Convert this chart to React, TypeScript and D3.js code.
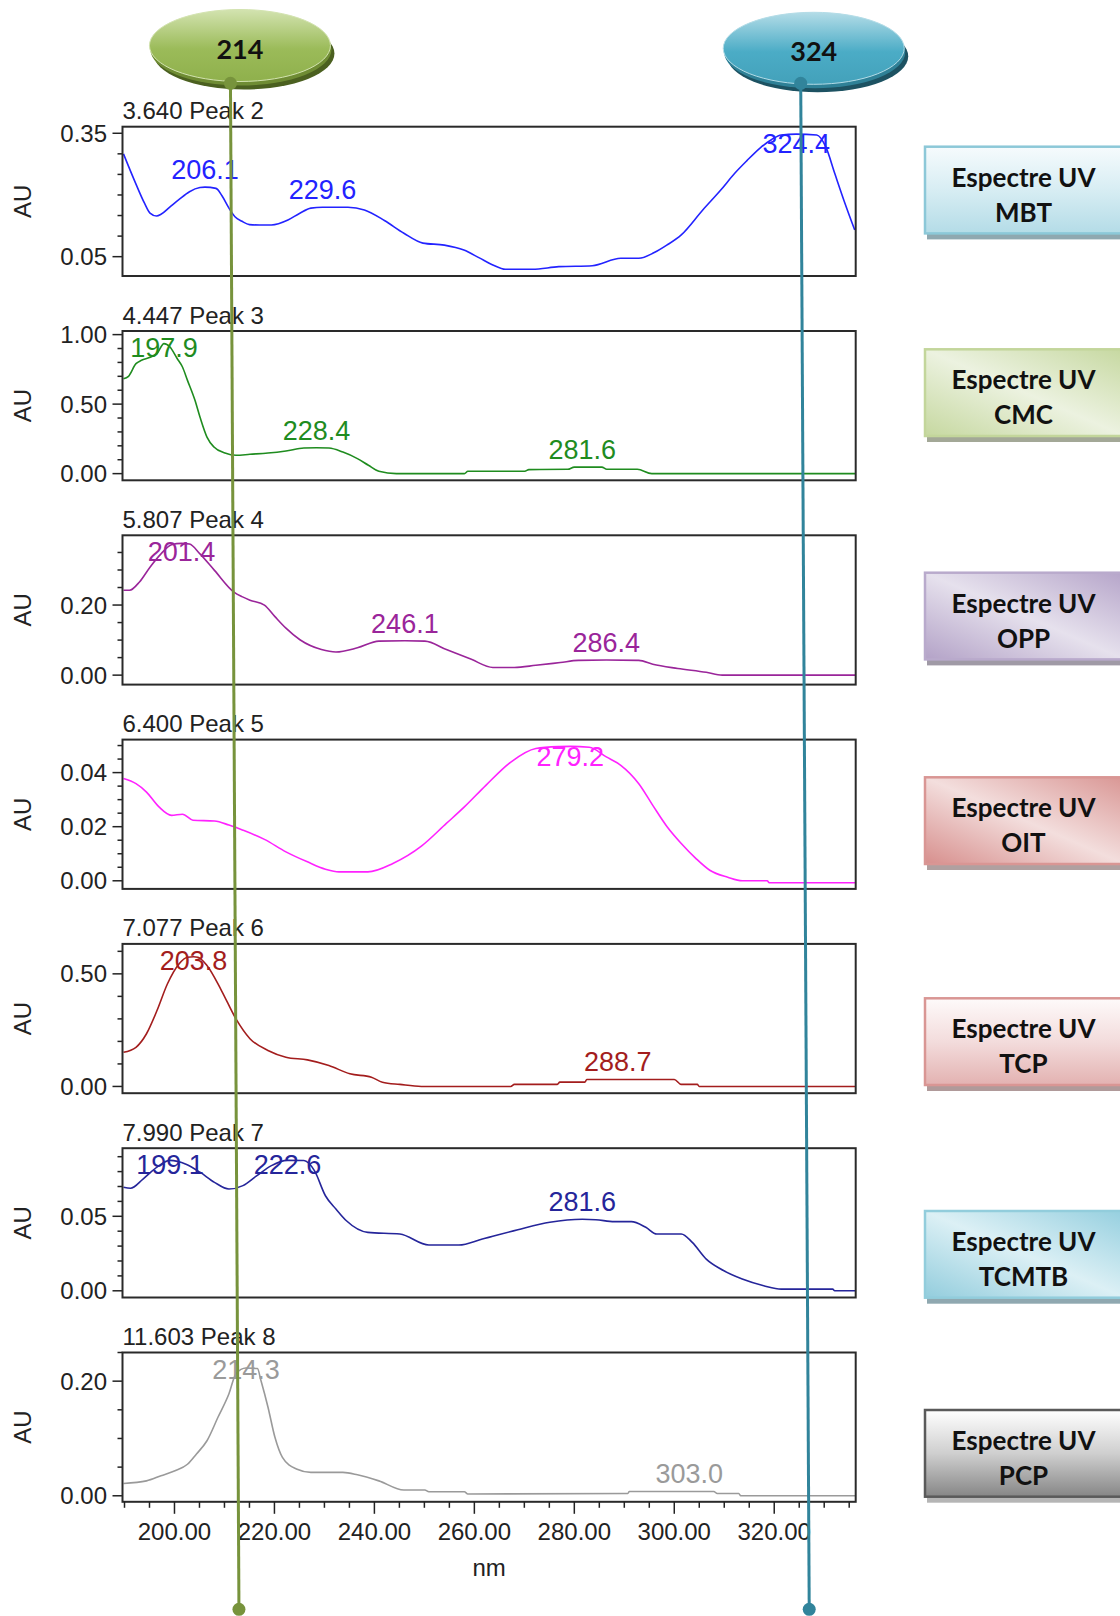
import React from "react";
import * as d3 from "d3";

// wavelength axis (nm)
const nmDomain = [189.6, 336.3];
const nmTicks = [200, 220, 240, 260, 280, 300, 320];

const titles = ["3.640 Peak 2", "4.447 Peak 3", "5.807 Peak 4", "6.400 Peak 5", "7.077 Peak 6", "7.990 Peak 7", "11.603 Peak 8"];
const compounds = ["MBT", "CMC", "OPP", "OIT", "TCP", "TCMTB", "PCP"];
const colors = ["#2323ff", "#1f8c1f", "#9a259a", "#ff22ff", "#a31d1d", "#25259a", "#9a9a9a"];

// y axes: domain, labelled ticks, minor step
const yDomains = [[0.003, 0.366], [-0.048, 1.026], [-0.027, 0.399], [-0.003, 0.0522], [-0.03, 0.633], [-0.0045, 0.0957], [-0.0105, 0.25]];
const yLabels = [[0.05, 0.35], [0.0, 0.5, 1.0], [0.0, 0.2], [0.0, 0.02, 0.04], [0.0, 0.5], [0.0, 0.05], [0.0, 0.2]];
const yMinor = [0.05, 0.1, 0.05, 0.005, 0.1, 0.01, 0.05];

// spectra [nm, AU]
const mbt = [[189.8,0.300],[192,0.235],[194,0.180],[195.1,0.156],[196.4,0.149],[197.3,0.153],[199,0.170],[201,0.190],[203,0.208],[205.1,0.218],[206.1,0.219],[208.3,0.216],[209.5,0.198],[210.9,0.168],[212.1,0.147],[213.5,0.136],[215,0.128],[217,0.127],[219.4,0.127],[222.7,0.139],[225,0.155],[227.3,0.168],[229.6,0.170],[234.7,0.170],[238,0.1635],[242,0.138],[245.9,0.107],[249.7,0.083],[254,0.078],[257.9,0.066],[261,0.047],[263.7,0.030],[266.2,0.0193],[271.6,0.0193],[276.9,0.0257],[283.6,0.028],[289.3,0.046],[292.9,0.046],[296,0.060],[298.5,0.078],[301.4,0.103],[305.7,0.1635],[309.3,0.212],[312.1,0.2527],[314.5,0.283],[317.1,0.3135],[319.5,0.335],[321.4,0.346],[324.4,0.348],[328.5,0.346],[330.3,0.3175],[332.1,0.2527],[334,0.185],[336.1,0.115]];
const cmc = [[189.8,0.683],[190.8,0.70],[192.3,0.791],[193.4,0.815],[195,0.835],[196.5,0.863],[197.9,0.935],[199.1,0.911],[200.5,0.83],[201.6,0.767],[202.6,0.671],[204.1,0.527],[205.1,0.407],[206.5,0.263],[207.9,0.191],[210.1,0.148],[212.3,0.132],[215.1,0.139],[218.7,0.148],[222.3,0.163],[225.9,0.184],[228.4,0.186],[230.9,0.184],[233.7,0.155],[236.6,0.108],[238.8,0.06],[240.9,0.017],[244.4,0],[258,0],[258.7,0.017],[270.1,0.017],[270.9,0.029],[278.7,0.031],[280,0.047],[285.5,0.047],[286.5,0.031],[292.6,0.031],[295.5,0],[336.3,0]];
const opp = [[189.8,0.242],[191,0.242],[193,0.266],[195.1,0.308],[197.3,0.346],[199.4,0.372],[201.4,0.376],[203,0.374],[205.1,0.346],[208,0.299],[211.9,0.237],[213.5,0.224],[215.1,0.214],[218,0.2],[220.1,0.167],[222.3,0.134],[225.1,0.101],[229.4,0.073],[232.3,0.066],[236.6,0.078],[240.9,0.097],[246.1,0.098],[250.1,0.097],[254.4,0.073],[259.4,0.045],[263.7,0.022],[268,0.022],[272.3,0.028],[277.2,0.036],[280.8,0.042],[286.4,0.043],[292.9,0.042],[295.7,0.031],[300.7,0.019],[306.4,0.008],[309.6,0],[336.3,0]];
const oit = [[189.8,0.0378],[192.3,0.0359],[194.4,0.0328],[196.9,0.0273],[199.4,0.0242],[201.6,0.0246],[203.7,0.0224],[208,0.0221],[210.9,0.0206],[213.7,0.0187],[218,0.0153],[222.3,0.0107],[226.6,0.007],[230.2,0.0043],[232.9,0.0033],[238.7,0.0033],[243.7,0.0064],[249.4,0.0128],[254.4,0.0212],[258,0.0273],[262.3,0.0353],[267.3,0.0439],[272.3,0.0489],[277,0.0496],[279.2,0.0497],[283,0.0494],[286.4,0.0458],[289.3,0.0427],[292.9,0.0359],[295.7,0.0279],[298.6,0.0199],[301.4,0.0138],[304.3,0.0083],[307.1,0.0039],[310.7,0.0013],[313.6,0],[318.6,0],[319,-0.0007],[336.3,-0.0007]];
const tcp = [[189.8,0.152],[192.3,0.174],[194.4,0.234],[196.5,0.337],[198.6,0.456],[200.9,0.544],[202.6,0.574],[203.8,0.576],[204.7,0.574],[206.5,0.537],[209.4,0.426],[212.3,0.300],[215.1,0.212],[218.7,0.16],[222.3,0.130],[226.6,0.118],[230.9,0.093],[235.1,0.056],[239.4,0.041],[241.6,0.019],[245.1,0.009],[249.4,0],[267.3,0],[268,0.009],[276.6,0.009],[277.1,0.019],[282.1,0.019],[282.5,0.031],[288.7,0.031],[300,0.031],[301.4,0.009],[304.6,0.009],[305,0],[336.3,0]];
const tcmtb = [[189.8,0.0695],[191.2,0.0688],[193.7,0.075],[196.5,0.083],[199.1,0.0875],[202.3,0.085],[205.1,0.0796],[208,0.0728],[210.9,0.0683],[213.7,0.0706],[216.5,0.0773],[219.4,0.084],[222.6,0.0875],[225.9,0.0874],[228,0.0806],[230.2,0.0638],[232.3,0.0549],[234.4,0.047],[238.7,0.0392],[245.1,0.0381],[250.9,0.0307],[256.9,0.0307],[261.6,0.0347],[268.7,0.041],[275.1,0.046],[281.6,0.048],[284.3,0.0477],[288,0.0464],[291.4,0.0464],[294.3,0.0426],[296.5,0.0381],[301.4,0.0381],[303.6,0.0325],[306.4,0.0213],[309.3,0.0146],[313.6,0.0079],[317.9,0.0034],[321.4,0.0011],[331.7,0.0011],[332.1,0],[336.3,0]];
const pcp = [[189.8,0.0215],[194.4,0.026],[197.3,0.035],[200.1,0.0437],[202.6,0.055],[204.4,0.073],[206.5,0.096],[208.7,0.137],[210.9,0.178],[212.3,0.213],[214.3,0.223],[216.6,0.222],[217.3,0.201],[218.7,0.155],[220.1,0.102],[221.6,0.067],[224.4,0.0467],[227.3,0.0408],[233.7,0.0408],[236.6,0.0367],[240.9,0.026],[245.9,0.01],[250.1,0.01],[250.9,0.007],[258,0.007],[258.7,0.003],[290.7,0.004],[291,0.0075],[307.9,0.0075],[308.6,0.004],[312.9,0.004],[313.3,0],[336.3,0]];
const spectra = [mbt, cmc, opp, oit, tcp, tcmtb, pcp];

// labelled maxima [nm, AU]
const peaks = [
  [[206.1,0.219],[229.6,0.170],[324.4,0.348]],
  [[197.9,0.935],[228.4,0.186],[281.6,0.047]],
  [[201.4,0.376],[246.1,0.098],[286.4,0.043]],
  [[279.2,0.0497]],
  [[203.8,0.576],[288.7,0.031]],
  [[199.1,0.0875],[222.6,0.0875],[281.6,0.048]],
  [[214.3,0.223],[303.0,0.0075]],
];

// marker lines (label, nm at top, nm at bottom)
const markers = [
  { label: "214", topNm: 211.2, bottomNm: 212.9, face: ["#d3e3b0", "#9bbb59", "#8fb04c"], rim: "#6f8c34", shade: "#4b6020", line: "#77933c" },
  { label: "324", topNm: 325.3, bottomNm: 327.0, face: ["#b3dce7", "#4bacc6", "#43a1ba"], rim: "#2f8197", shade: "#1d5262", line: "#31849b" },
];

// boxes on the right
const boxTops = [146.7, 349.3, 572.7, 777.3, 998.3, 1211, 1410];
const boxFills = [
  { id: "bMBT", stops: ["#f6fbfd", "#d7edf3", "#b4dce7"], dir: "v", border: "#8cc8d8", shadow: "#8fa8b0" },
  { id: "bCMC", stops: ["#c6d8a0", "#ecf2e0", "#c6d8a0"], dir: "d", border: "#c3d69b", shadow: "#a3a897" },
  { id: "bOPP", stops: ["#b3a2c7", "#e6e1ed", "#b5a4c9"], dir: "d", border: "#b9aacc", shadow: "#a09aa6" },
  { id: "bOIT", stops: ["#d78f8d", "#f3dedd", "#d99694"], dir: "d", border: "#d99694", shadow: "#b0a0a0" },
  { id: "bTCP", stops: ["#fefafa", "#f3dcdc", "#e3b2b1"], dir: "v", border: "#d99694", shadow: "#b09a9a" },
  { id: "bTCMTB", stops: ["#93cddd", "#dcf0f5", "#95cfdf"], dir: "d", border: "#92cddc", shadow: "#8fa8b0" },
  { id: "bPCP", stops: ["#ffffff", "#cfcfcf", "#868686"], dir: "v", border: "#5a5a5a", shadow: "#b5b5b5" },
];

const W = 1120, H = 1616;
const plotLeft = 122.5, plotRight = 855.7;
const top0 = 126.7, step = 204.3, panelH = 149.3;
const chartFont = "'Liberation Sans', Arial, sans-serif";
const boxFont = "Lato, 'Open Sans', sans-serif";

export default function App() {
  const x = d3.scaleLinear().domain(nmDomain).range([plotLeft, plotRight]);
  const fmt = d3.format(".2f");
  const lastBottom = top0 + 6 * step + panelH;
  const nmMinor = d3.range(190, 336, 5);

  return (
    <svg width={W} height={H} viewBox={`0 0 ${W} ${H}`} style={{ position: "absolute", left: 0, top: 0, background: "#fff" }}>
      <defs>
        {boxFills.map((b) => (
          <linearGradient key={b.id} id={b.id} x1="0" y1={b.dir === "v" ? "0" : "1"} x2={b.dir === "v" ? "0" : "1"} y2={b.dir === "v" ? "1" : "0"}>
            <stop offset="0%" stopColor={b.stops[0]} />
            <stop offset="50%" stopColor={b.stops[1]} />
            <stop offset="100%" stopColor={b.stops[2]} />
          </linearGradient>
        ))}
        {markers.map((m, i) => (
          <linearGradient key={i} id={"face" + i} x1="0" y1="0" x2="0" y2="1">
            <stop offset="0%" stopColor={m.face[0]} />
            <stop offset="55%" stopColor={m.face[1]} />
            <stop offset="100%" stopColor={m.face[2]} />
          </linearGradient>
        ))}
      </defs>

      {spectra.map((data, i) => {
        const top = top0 + i * step;
        const bottom = top + panelH;
        const [lo, hi] = yDomains[i];
        const y = d3.scaleLinear().domain([lo, hi]).range([bottom, top]);
        const line = d3.line<number[]>().x((d) => x(d[0])).y((d) => y(d[1])).curve(d3.curveMonotoneX);
        const ms = yMinor[i];
        const ticks = d3.range(Math.ceil(lo / ms - 1e-6), Math.floor(hi / ms + 1e-6) + 1).map((k) => k * ms);
        return (
          <g key={i} fontFamily={chartFont}>
            <text x={plotLeft} y={top - 7.5} fontSize={24} fill="#222">{titles[i]}</text>
            <text transform={`translate(31,${(top + bottom) / 2}) rotate(-90)`} textAnchor="middle" fontSize={24} fill="#222">AU</text>
            {ticks.map((t, k) => {
              const major = yLabels[i].some((l) => Math.abs(l - t) < ms / 10);
              return <line key={k} x1={plotLeft - (major ? 10 : 5)} x2={plotLeft} y1={y(t)} y2={y(t)} stroke="#222" strokeWidth={1.5} />;
            })}
            {yLabels[i].map((l, k) => (
              <text key={k} x={107} y={y(l)} dy="0.36em" textAnchor="end" fontSize={24} fill="#222">{fmt(l)}</text>
            ))}
            <path d={line(data) || ""} fill="none" stroke={colors[i]} strokeWidth={1.6} />
            {peaks[i].map((p, k) => (
              <text key={k} x={x(p[0])} y={Math.max(y(p[1]) - 8, top + 26)} textAnchor="middle" fontSize={27} fill={colors[i]}>{p[0].toFixed(1)}</text>
            ))}
            <rect x={plotLeft} y={top} width={plotRight - plotLeft} height={panelH} fill="none" stroke="#2a2a2a" strokeWidth={2} />
          </g>
        );
      })}

      <g fontFamily={chartFont} fill="#222">
        {nmMinor.map((t) => {
          const major = nmTicks.includes(t);
          return <line key={t} x1={x(t)} x2={x(t)} y1={lastBottom} y2={lastBottom + (major ? 12 : 6)} stroke="#222" strokeWidth={1.5} />;
        })}
        {nmTicks.map((t) => (
          <text key={t} x={x(t)} y={1540} textAnchor="middle" fontSize={24}>{fmt(t)}</text>
        ))}
        <text x={(plotLeft + plotRight) / 2} y={1576} textAnchor="middle" fontSize={24}>nm</text>
      </g>

      {compounds.map((c, i) => {
        const t = boxTops[i];
        const b = boxFills[i];
        return (
          <g key={c} fontFamily={boxFont} fontWeight={700}>
            <rect x={927} y={t + 6} width={200} height={86.7} fill={b.shadow} />
            <rect x={925} y={t} width={200} height={86.7} fill={`url(#${b.id})`} stroke={b.border} strokeWidth={2.5} />
            <text x={1023.5} y={t + 40} textAnchor="middle" fontSize={26} fill="#111">Espectre UV</text>
            <text x={1023.5} y={t + 75} textAnchor="middle" fontSize={26} fill="#111">{c}</text>
          </g>
        );
      })}

      {markers.map((m, i) => {
        const xt = x(m.topNm);
        const xb = x(m.bottomNm);
        const cx = xt + (i === 0 ? 9.5 : 13);
        const cy = i === 0 ? 45.5 : 48.3;
        return (
          <g key={i}>
            <ellipse cx={cx + 4} cy={cy + 8} rx={90.5} ry={36} fill={m.shade} />
            <ellipse cx={cx + 1} cy={cy + 4} rx={90.5} ry={36} fill={m.rim} />
            <ellipse cx={cx} cy={cy} rx={90.5} ry={36} fill={`url(#face${i})`} stroke={m.face[0]} strokeWidth={1} />
            <text x={cx} y={cy + 13} textAnchor="middle" fontFamily={boxFont} fontWeight={700} fontSize={27} fill="#111">{m.label}</text>
            <line x1={xt} y1={83.3} x2={xb} y2={1609.3} stroke={m.line} strokeWidth={3} />
            <circle cx={xt} cy={83.3} r={6.5} fill={m.line} />
            <circle cx={xb} cy={1609.3} r={6.5} fill={m.line} />
          </g>
        );
      })}
    </svg>
  );
}
